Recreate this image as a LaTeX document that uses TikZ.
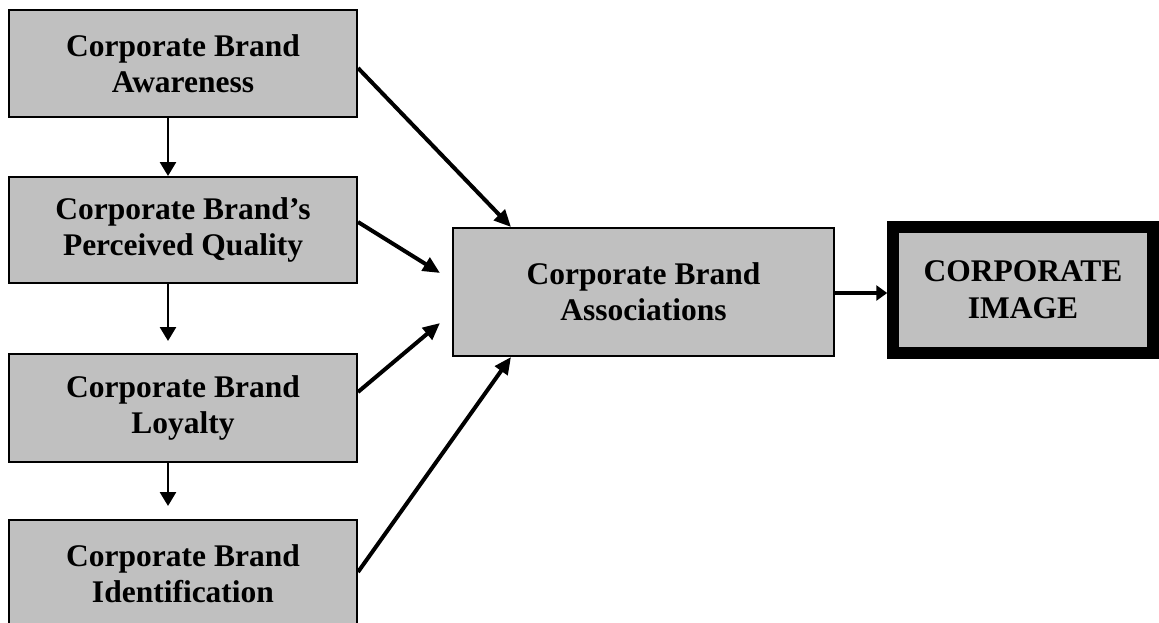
\documentclass[tikz,border=0pt]{standalone}
\usepackage{fontspec}
\setmainfont{Liberation Serif}
\usetikzlibrary{arrows.meta,calc}

\definecolor{boxgray}{HTML}{C0C0C0}

\tikzset{
  box/.style={draw=black, line width=2pt, fill=boxgray, align=center,
    font=\fontsize{31.5}{36}\selectfont\bfseries, inner sep=0pt},
  sidebox/.style={box, minimum width=348pt, minimum height=107pt},
  midbox/.style={box, minimum width=381pt, minimum height=128pt},
  imagebox/.style={box, line width=11.5pt, minimum width=260pt,
    minimum height=126pt, font=\fontsize{31.5}{37}\selectfont\bfseries},
  downarrow/.style={line width=2.7pt,
    -{Triangle[length=14pt,width=16pt]}},
  feedarrow/.style={line width=4pt,
    -{Triangle[length=17pt,width=15pt]}},
  imagearrow/.style={line width=4.3pt,
    -{Triangle[length=11pt,width=15pt]}}
}

\begin{document}
\begin{tikzpicture}[x=1pt,y=-1pt]
  \useasboundingbox (0,0) rectangle (1159,622);

  % dimensions of corporate brand equity
  \node[sidebox] (aware) at (183,63.5) {Corporate Brand\\Awareness};
  \node[sidebox, minimum height=106pt] (quality) at (183,230) {Corporate Brand’s\\Perceived Quality};
  \node[sidebox, minimum height=108pt] (loyal) at (183,408) {Corporate Brand\\Loyalty};
  \node[sidebox] (ident) at (183,573.5) {Corporate Brand\\Identification};

  % associations and resulting image
  \node[midbox] (assoc) at (643.5,292) {Corporate Brand\\Associations};
  \node[imagebox] (image) at (1023,290) {CORPORATE\\IMAGE};

  % chain down the left column
  \draw[downarrow] ($(aware.south)+(-15,0)$) -- ($(quality.north)+(-15,0)$);
  \draw[downarrow, shorten >=12pt] ($(quality.south)+(-15,0)$) -- ($(loyal.north)+(-15,0)$);
  \draw[downarrow, shorten >=13pt] ($(loyal.south)+(-15,0)$) -- ($(ident.north)+(-15,0)$);

  % every dimension feeds the associations
  \coordinate (inQ) at ($(assoc.west)+(-12,-19)$);
  \coordinate (inL) at ($(assoc.west)+(-12,31)$);
  \draw[feedarrow] ($(aware.east)+(0,4.5)$) -- ($(assoc.north west)+(59,0)$);
  \draw[feedarrow] ($(quality.east)+(0,-8)$) -- (inQ);
  \draw[feedarrow] ($(loyal.east)+(0,-16)$) -- (inL);
  \draw[feedarrow] ($(ident.east)+(0,-1.5)$) -- ($(assoc.south west)+(59,0)$);

  % associations form the corporate image
  \draw[imagearrow] ($(assoc.east)+(0,1)$) -- ($(image.west)+(0,3)$);
\end{tikzpicture}
\end{document}
